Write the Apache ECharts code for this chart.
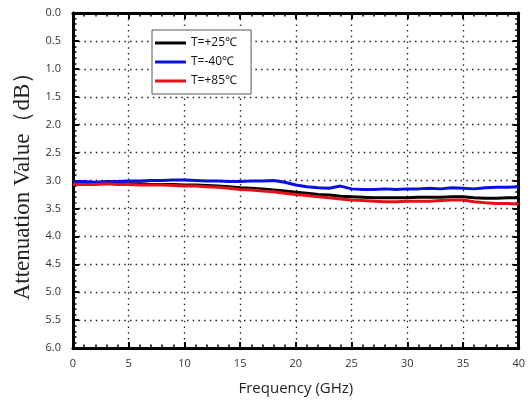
<!DOCTYPE html>
<html><head><meta charset="utf-8">
<script src="https://cdn.jsdelivr.net/npm/echarts@6/dist/echarts.min.js"></script>
<style>html,body{margin:0;padding:0;background:#fff}#c{width:528px;height:403px}</style>
</head><body><div id="c"></div>
<script>
var freq = [0,1,2,3,4,5,6,7,8,9,10,11,12,13,14,15,16,17,18,19,20,21,22,23,24,25,26,27,28,29,30,31,32,33,34,35,36,37,38,39,40];
var t25 = [3.05,3.05,3.06,3.05,3.06,3.06,3.06,3.07,3.07,3.07,3.08,3.08,3.09,3.10,3.11,3.13,3.14,3.15,3.17,3.19,3.21,3.23,3.25,3.26,3.28,3.29,3.30,3.31,3.31,3.31,3.31,3.30,3.30,3.30,3.29,3.29,3.31,3.32,3.32,3.31,3.31];
var tm40 = [3.02,3.02,3.03,3.02,3.02,3.01,3.01,3.00,3.00,2.99,2.99,3.00,3.01,3.01,3.02,3.02,3.01,3.01,3.00,3.03,3.08,3.11,3.13,3.14,3.10,3.15,3.16,3.16,3.15,3.16,3.15,3.15,3.14,3.15,3.13,3.14,3.15,3.13,3.12,3.12,3.11];
var t85 = [3.07,3.07,3.07,3.06,3.07,3.07,3.08,3.08,3.08,3.09,3.10,3.10,3.11,3.12,3.14,3.16,3.17,3.19,3.20,3.23,3.25,3.27,3.29,3.31,3.33,3.35,3.36,3.37,3.38,3.38,3.37,3.37,3.37,3.36,3.35,3.35,3.38,3.40,3.41,3.41,3.42];
var seriesNames = ['T=+25\u2103','T=-40\u2103','T=+85\u2103'];
var xTitle = 'Frequency (GHz)';
var yTitle = 'Attenuation Value\uFF08dB\uFF09';

function pairs(arr){ return freq.map(function(f,i){ return [f, arr[i]]; }); }
var colors = ['#000000','#0a10e0','#e6101a'];
var dotted = {show:true, lineStyle:{color:'#222', width:1.3, type:[1.5,4.2]}};
var axLine = {show:true, onZero:false, lineStyle:{color:'#000', width:3}};
var tick = {show:true, inside:true, length:6, lineStyle:{color:'#000', width:2}};
var minor = {show:true, splitNumber:5, length:3.5, lineStyle:{color:'#000', width:1.5}};
var lbl = {color:'#333', fontFamily:'Open Sans', fontSize:11};

var chart = echarts.init(document.getElementById('c'), null, {renderer:'canvas'});
chart.setOption({
  animation:false,
  backgroundColor:'#fff',
  grid:{left:73, right:4, top:13, bottom:55, containLabel:false},
  legend:{
    left:152, top:30, orient:'vertical', itemGap:5, itemWidth:31, itemHeight:3,
    padding:[6,14,6,3], borderColor:'#555', borderWidth:1, backgroundColor:'#fff',
    icon:'rect',
    textStyle:{fontFamily:'Open Sans', fontSize:12, lineHeight:14, color:'#111'},
    data:seriesNames
  },
  xAxis:[
    {type:'value', min:0, max:40, interval:5, position:'bottom',
     name:xTitle, nameLocation:'middle', nameGap:33,
     nameTextStyle:{fontFamily:'Open Sans', fontSize:15, color:'#222'},
     axisLine:axLine, axisTick:tick, minorTick:minor,
     axisLabel:Object.assign({margin:10}, lbl),
     splitLine:dotted},
    {type:'value', min:0, max:40, interval:5, position:'top',
     axisLine:axLine, axisTick:tick, minorTick:minor, axisLabel:{show:false}, splitLine:{show:false}}
  ],
  yAxis:[
    {type:'value', min:0, max:6, interval:0.5, inverse:true, position:'left',
     name:yTitle, nameLocation:'middle', nameGap:36, nameRotate:90,
     nameTextStyle:{fontFamily:'Liberation Serif', fontSize:23, color:'#222'},
     axisLine:axLine, axisTick:tick, minorTick:minor,
     axisLabel:Object.assign({margin:12, formatter:function(v){return v.toFixed(1);}}, lbl),
     splitLine:dotted},
    {type:'value', min:0, max:6, interval:0.5, inverse:true, position:'right',
     axisLine:axLine, axisTick:tick, minorTick:minor, axisLabel:{show:false}, splitLine:{show:false}}
  ],
  series:[
    {name:seriesNames[0], type:'line', data:pairs(t25), showSymbol:false, color:colors[0], lineStyle:{width:3, color:colors[0]}, z:3},
    {name:seriesNames[1], type:'line', data:pairs(tm40), showSymbol:false, color:colors[1], lineStyle:{width:3, color:colors[1]}, z:3},
    {name:seriesNames[2], type:'line', data:pairs(t85), showSymbol:false, color:colors[2], lineStyle:{width:3, color:colors[2]}, z:4}
  ]
});
</script></body></html>
